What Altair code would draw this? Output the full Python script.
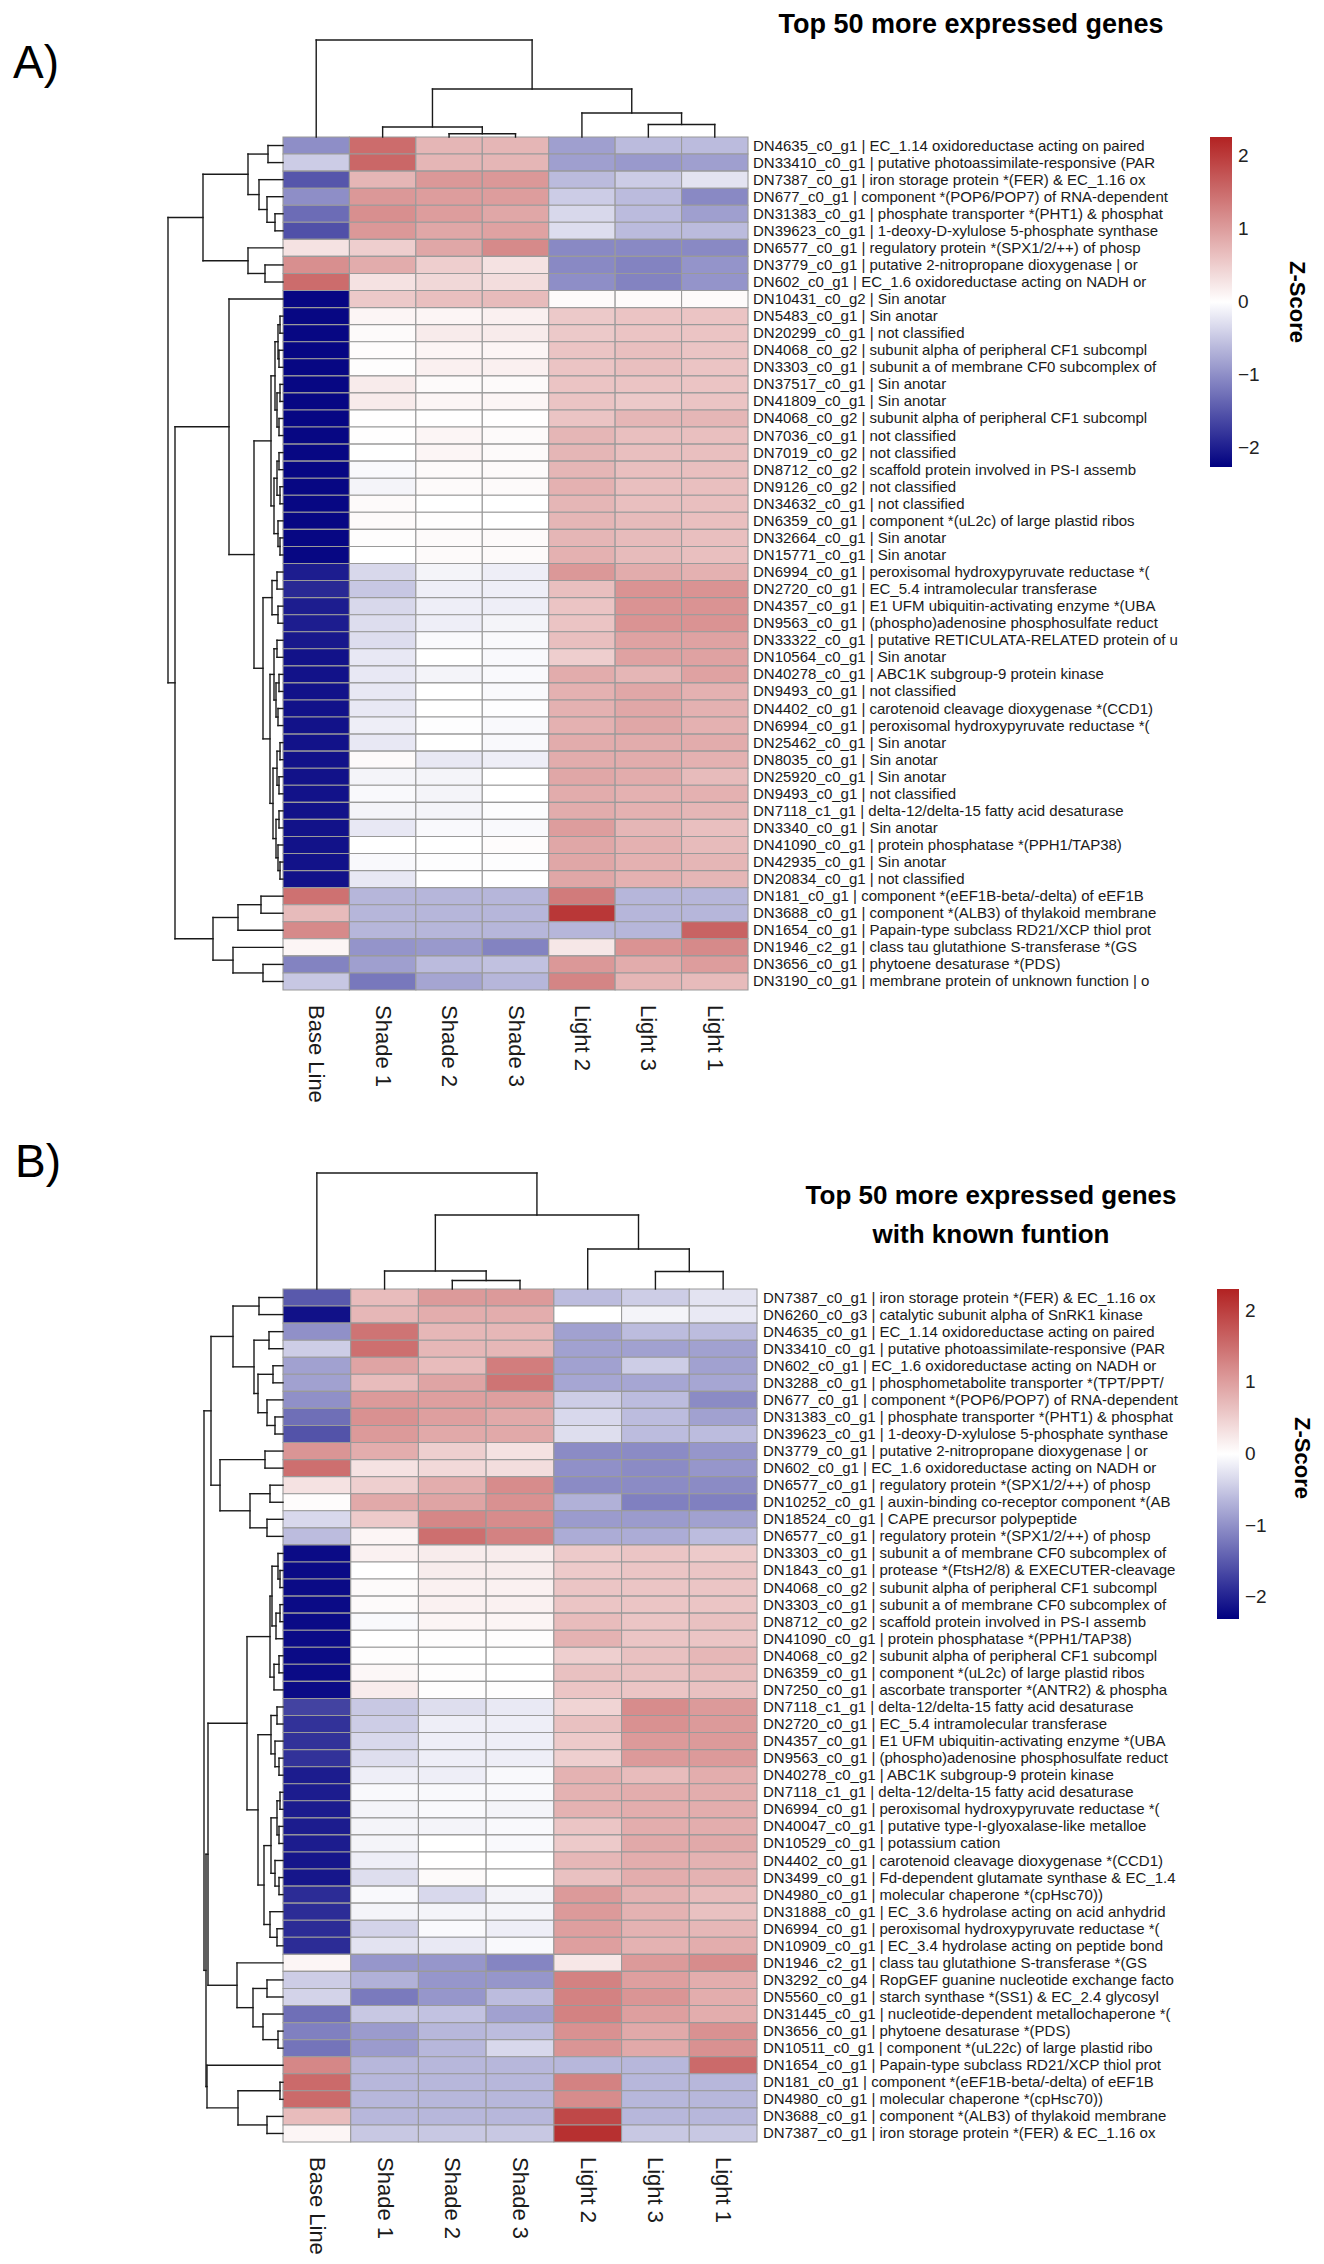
import altair as alt
import pandas as pd

# ---------------------------------------------------------------- data
samples = ["Base Line", "Shade 1", "Shade 2", "Shade 3", "Light 2", "Light 3", "Light 1"]

genes_a = [
    "DN4635_c0_g1 | EC_1.14 oxidoreductase acting on paired",
    "DN33410_c0_g1 | putative photoassimilate-responsive (PAR",
    "DN7387_c0_g1 | iron storage protein *(FER) & EC_1.16 ox",
    "DN677_c0_g1 | component *(POP6/POP7) of RNA-dependent",
    "DN31383_c0_g1 | phosphate transporter *(PHT1) & phosphat",
    "DN39623_c0_g1 | 1-deoxy-D-xylulose 5-phosphate synthase",
    "DN6577_c0_g1 | regulatory protein *(SPX1/2/++) of phosp",
    "DN3779_c0_g1 | putative 2-nitropropane dioxygenase | or",
    "DN602_c0_g1 | EC_1.6 oxidoreductase acting on NADH or",
    "DN10431_c0_g2 | Sin anotar",
    "DN5483_c0_g1 | Sin anotar",
    "DN20299_c0_g1 | not classified",
    "DN4068_c0_g2 | subunit alpha of peripheral CF1 subcompl",
    "DN3303_c0_g1 | subunit a of membrane CF0 subcomplex of",
    "DN37517_c0_g1 | Sin anotar",
    "DN41809_c0_g1 | Sin anotar",
    "DN4068_c0_g2 | subunit alpha of peripheral CF1 subcompl",
    "DN7036_c0_g1 | not classified",
    "DN7019_c0_g2 | not classified",
    "DN8712_c0_g2 | scaffold protein involved in PS-I assemb",
    "DN9126_c0_g2 | not classified",
    "DN34632_c0_g1 | not classified",
    "DN6359_c0_g1 | component *(uL2c) of large plastid ribos",
    "DN32664_c0_g1 | Sin anotar",
    "DN15771_c0_g1 | Sin anotar",
    "DN6994_c0_g1 | peroxisomal hydroxypyruvate reductase *(",
    "DN2720_c0_g1 | EC_5.4 intramolecular transferase",
    "DN4357_c0_g1 | E1 UFM ubiquitin-activating enzyme *(UBA",
    "DN9563_c0_g1 | (phospho)adenosine phosphosulfate reduct",
    "DN33322_c0_g1 | putative RETICULATA-RELATED protein of u",
    "DN10564_c0_g1 | Sin anotar",
    "DN40278_c0_g1 | ABC1K subgroup-9 protein kinase",
    "DN9493_c0_g1 | not classified",
    "DN4402_c0_g1 | carotenoid cleavage dioxygenase *(CCD1)",
    "DN6994_c0_g1 | peroxisomal hydroxypyruvate reductase *(",
    "DN25462_c0_g1 | Sin anotar",
    "DN8035_c0_g1 | Sin anotar",
    "DN25920_c0_g1 | Sin anotar",
    "DN9493_c0_g1 | not classified",
    "DN7118_c1_g1 | delta-12/delta-15 fatty acid desaturase",
    "DN3340_c0_g1 | Sin anotar",
    "DN41090_c0_g1 | protein phosphatase *(PPH1/TAP38)",
    "DN42935_c0_g1 | Sin anotar",
    "DN20834_c0_g1 | not classified",
    "DN181_c0_g1 | component *(eEF1B-beta/-delta) of eEF1B",
    "DN3688_c0_g1 | component *(ALB3) of thylakoid membrane",
    "DN1654_c0_g1 | Papain-type subclass RD21/XCP thiol prot",
    "DN1946_c2_g1 | class tau glutathione S-transferase *(GS",
    "DN3656_c0_g1 | phytoene desaturase *(PDS)",
    "DN3190_c0_g1 | membrane protein of unknown function | o",
]

# z-scores per gene, in the order of `samples`
zscore_a = [
    [-1.00, 1.50, 0.75, 0.75, -0.85, -0.60, -0.60],
    [-0.45, 1.55, 0.75, 0.75, -0.85, -0.90, -0.85],
    [-1.50, 0.75, 1.05, 1.05, -0.60, -0.45, -0.25],
    [-1.00, 1.05, 1.00, 1.00, -0.45, -0.60, -1.05],
    [-1.30, 1.15, 1.00, 0.90, -0.35, -0.60, -0.85],
    [-1.55, 1.05, 0.90, 0.95, -0.30, -0.60, -0.60],
    [0.30, 0.50, 0.90, 1.20, -1.05, -1.05, -1.05],
    [1.15, 0.85, 0.50, 0.30, -1.05, -1.10, -0.95],
    [1.50, 0.30, 0.40, 0.35, -1.00, -1.10, -0.95],
    [-2.20, 0.55, 0.65, 0.70, 0.05, 0.05, 0.05],
    [-2.20, 0.10, 0.10, 0.15, 0.55, 0.60, 0.60],
    [-2.20, 0.05, 0.20, 0.20, 0.55, 0.60, 0.60],
    [-2.20, 0.03, 0.10, 0.10, 0.60, 0.65, 0.60],
    [-2.20, 0.02, 0.15, 0.15, 0.60, 0.65, 0.60],
    [-2.20, 0.20, 0.05, 0.05, 0.60, 0.60, 0.60],
    [-2.20, 0.20, 0.10, 0.10, 0.60, 0.55, 0.60],
    [-2.20, 0.01, 0.01, 0.01, 0.60, 0.75, 0.75],
    [-2.20, 0.01, 0.10, 0.05, 0.75, 0.65, 0.65],
    [-2.20, 0.00, 0.10, 0.05, 0.75, 0.65, 0.65],
    [-2.20, -0.05, 0.05, 0.05, 0.75, 0.65, 0.65],
    [-2.20, -0.10, 0.05, 0.05, 0.80, 0.65, 0.65],
    [-2.20, 0.05, 0.00, 0.00, 0.75, 0.65, 0.65],
    [-2.20, 0.05, 0.02, 0.00, 0.75, 0.70, 0.65],
    [-2.20, 0.02, 0.05, 0.05, 0.75, 0.70, 0.65],
    [-2.20, 0.00, 0.05, 0.05, 0.80, 0.70, 0.65],
    [-2.00, -0.35, -0.10, -0.15, 1.05, 0.85, 0.80],
    [-1.90, -0.50, -0.15, -0.15, 0.65, 1.10, 1.10],
    [-2.00, -0.35, -0.15, -0.15, 0.60, 1.10, 1.10],
    [-2.00, -0.30, -0.15, -0.10, 0.60, 1.10, 1.10],
    [-2.05, -0.30, -0.05, -0.05, 0.65, 0.95, 0.95],
    [-2.10, -0.20, 0.00, -0.05, 0.50, 0.95, 0.95],
    [-2.10, -0.20, -0.10, -0.05, 0.85, 0.75, 0.95],
    [-2.10, -0.20, 0.00, -0.05, 0.80, 0.90, 0.80],
    [-2.10, -0.20, 0.00, -0.02, 0.80, 0.90, 0.80],
    [-2.10, -0.15, -0.02, -0.05, 0.80, 0.90, 0.80],
    [-2.10, -0.20, 0.00, -0.05, 0.85, 0.85, 0.85],
    [-2.10, 0.05, -0.20, -0.15, 0.85, 0.85, 0.80],
    [-2.10, -0.10, -0.10, 0.00, 0.90, 0.85, 0.70],
    [-2.10, -0.05, -0.10, 0.00, 0.85, 0.80, 0.80],
    [-2.10, -0.10, -0.10, -0.03, 0.85, 0.80, 0.75],
    [-2.10, -0.20, -0.05, -0.05, 1.00, 0.75, 0.65],
    [-2.10, 0.00, 0.00, 0.03, 0.90, 0.80, 0.70],
    [-2.10, -0.05, -0.02, -0.02, 0.90, 0.80, 0.75],
    [-2.10, -0.20, 0.00, 0.00, 0.90, 0.80, 0.75],
    [1.45, -0.65, -0.65, -0.65, 1.35, -0.65, -0.65],
    [0.70, -0.65, -0.65, -0.65, 2.05, -0.65, -0.65],
    [1.20, -0.65, -0.65, -0.65, -0.65, -0.65, 1.60],
    [0.10, -0.95, -0.90, -1.10, 0.25, 1.10, 1.20],
    [-1.10, -0.85, -0.60, -0.55, 1.05, 0.85, 1.00],
    [-0.50, -1.20, -0.80, -0.65, 1.25, 0.75, 0.70],
]

genes_b = [
    "DN7387_c0_g1 | iron storage protein *(FER) & EC_1.16 ox",
    "DN6260_c0_g3 | catalytic subunit alpha of SnRK1 kinase",
    "DN4635_c0_g1 | EC_1.14 oxidoreductase acting on paired",
    "DN33410_c0_g1 | putative photoassimilate-responsive (PAR",
    "DN602_c0_g1 | EC_1.6 oxidoreductase acting on NADH or",
    "DN3288_c0_g1 | phosphometabolite transporter *(TPT/PPT/",
    "DN677_c0_g1 | component *(POP6/POP7) of RNA-dependent",
    "DN31383_c0_g1 | phosphate transporter *(PHT1) & phosphat",
    "DN39623_c0_g1 | 1-deoxy-D-xylulose 5-phosphate synthase",
    "DN3779_c0_g1 | putative 2-nitropropane dioxygenase | or",
    "DN602_c0_g1 | EC_1.6 oxidoreductase acting on NADH or",
    "DN6577_c0_g1 | regulatory protein *(SPX1/2/++) of phosp",
    "DN10252_c0_g1 | auxin-binding co-receptor component *(AB",
    "DN18524_c0_g1 | CAPE precursor polypeptide",
    "DN6577_c0_g1 | regulatory protein *(SPX1/2/++) of phosp",
    "DN3303_c0_g1 | subunit a of membrane CF0 subcomplex of",
    "DN1843_c0_g1 | protease *(FtsH2/8) & EXECUTER-cleavage",
    "DN4068_c0_g2 | subunit alpha of peripheral CF1 subcompl",
    "DN3303_c0_g1 | subunit a of membrane CF0 subcomplex of",
    "DN8712_c0_g2 | scaffold protein involved in PS-I assemb",
    "DN41090_c0_g1 | protein phosphatase *(PPH1/TAP38)",
    "DN4068_c0_g2 | subunit alpha of peripheral CF1 subcompl",
    "DN6359_c0_g1 | component *(uL2c) of large plastid ribos",
    "DN7250_c0_g1 | ascorbate transporter *(ANTR2) & phospha",
    "DN7118_c1_g1 | delta-12/delta-15 fatty acid desaturase",
    "DN2720_c0_g1 | EC_5.4 intramolecular transferase",
    "DN4357_c0_g1 | E1 UFM ubiquitin-activating enzyme *(UBA",
    "DN9563_c0_g1 | (phospho)adenosine phosphosulfate reduct",
    "DN40278_c0_g1 | ABC1K subgroup-9 protein kinase",
    "DN7118_c1_g1 | delta-12/delta-15 fatty acid desaturase",
    "DN6994_c0_g1 | peroxisomal hydroxypyruvate reductase *(",
    "DN40047_c0_g1 | putative type-I-glyoxalase-like metalloe",
    "DN10529_c0_g1 | potassium cation",
    "DN4402_c0_g1 | carotenoid cleavage dioxygenase *(CCD1)",
    "DN3499_c0_g1 | Fd-dependent glutamate synthase & EC_1.4",
    "DN4980_c0_g1 | molecular chaperone *(cpHsc70))",
    "DN31888_c0_g1 | EC_3.6 hydrolase acting on acid anhydrid",
    "DN6994_c0_g1 | peroxisomal hydroxypyruvate reductase *(",
    "DN10909_c0_g1 | EC_3.4 hydrolase acting on peptide bond",
    "DN1946_c2_g1 | class tau glutathione S-transferase *(GS",
    "DN3292_c0_g4 | RopGEF guanine nucleotide exchange facto",
    "DN5560_c0_g1 | starch synthase *(SS1) & EC_2.4 glycosyl",
    "DN31445_c0_g1 | nucleotide-dependent metallochaperone *(",
    "DN3656_c0_g1 | phytoene desaturase *(PDS)",
    "DN10511_c0_g1 | component *(uL22c) of large plastid ribo",
    "DN1654_c0_g1 | Papain-type subclass RD21/XCP thiol prot",
    "DN181_c0_g1 | component *(eEF1B-beta/-delta) of eEF1B",
    "DN4980_c0_g1 | molecular chaperone *(cpHsc70))",
    "DN3688_c0_g1 | component *(ALB3) of thylakoid membrane",
    "DN7387_c0_g1 | iron storage protein *(FER) & EC_1.16 ox",
]

zscore_b = [
    [-1.50, 0.70, 1.05, 1.05, -0.60, -0.45, -0.25],
    [-2.15, 0.75, 0.85, 0.85, 0.00, -0.10, -0.20],
    [-1.00, 1.45, 0.75, 0.75, -0.85, -0.60, -0.60],
    [-0.45, 1.50, 0.75, 0.75, -0.85, -0.85, -0.85],
    [-0.85, 0.95, 0.70, 1.35, -0.85, -0.45, -0.85],
    [-0.85, 0.70, 0.95, 1.45, -0.80, -0.80, -0.80],
    [-1.00, 1.05, 1.00, 1.00, -0.45, -0.60, -1.05],
    [-1.30, 1.15, 1.00, 0.90, -0.35, -0.60, -0.85],
    [-1.55, 1.05, 0.90, 0.90, -0.30, -0.60, -0.60],
    [1.10, 0.85, 0.50, 0.30, -1.05, -1.05, -0.95],
    [1.50, 0.30, 0.40, 0.35, -1.00, -1.05, -0.95],
    [0.30, 0.50, 0.85, 1.20, -1.05, -1.05, -1.05],
    [0.03, 0.90, 0.95, 1.15, -0.70, -1.15, -1.15],
    [-0.35, 0.55, 1.25, 1.20, -0.90, -0.90, -0.85],
    [-0.60, 0.10, 1.50, 1.30, -0.75, -0.75, -0.60],
    [-2.20, 0.15, 0.20, 0.20, 0.55, 0.60, 0.55],
    [-2.20, 0.00, 0.20, 0.20, 0.55, 0.60, 0.60],
    [-2.20, 0.05, 0.15, 0.15, 0.60, 0.60, 0.60],
    [-2.20, 0.05, 0.15, 0.15, 0.60, 0.60, 0.60],
    [-2.20, -0.05, 0.10, 0.10, 0.70, 0.60, 0.65],
    [-2.20, 0.00, 0.02, 0.02, 0.80, 0.60, 0.60],
    [-2.20, 0.02, 0.00, 0.00, 0.50, 0.65, 0.75],
    [-2.20, 0.08, 0.02, 0.00, 0.65, 0.65, 0.70],
    [-2.20, 0.20, 0.02, 0.02, 0.60, 0.60, 0.65],
    [-1.70, -0.50, -0.30, -0.20, 0.45, 1.20, 1.05],
    [-1.85, -0.45, -0.15, -0.15, 0.65, 1.15, 1.05],
    [-1.85, -0.35, -0.15, -0.15, 0.55, 1.05, 1.05],
    [-1.85, -0.30, -0.15, -0.15, 0.50, 1.05, 1.05],
    [-2.05, -0.15, -0.15, -0.05, 0.80, 0.70, 0.85],
    [-2.05, -0.05, -0.05, -0.05, 0.80, 0.85, 0.85],
    [-2.05, -0.10, -0.05, -0.10, 0.80, 0.85, 0.85],
    [-2.05, -0.10, -0.10, -0.05, 0.60, 0.85, 0.85],
    [-2.05, -0.10, 0.00, -0.05, 0.55, 0.90, 0.90],
    [-2.10, -0.15, 0.00, 0.00, 0.75, 0.85, 0.80],
    [-2.10, -0.30, 0.05, 0.00, 0.65, 0.85, 0.80],
    [-1.90, -0.05, -0.35, -0.10, 1.05, 0.80, 0.70],
    [-1.90, -0.10, -0.10, -0.10, 1.05, 0.80, 0.65],
    [-1.90, -0.40, -0.05, -0.15, 1.00, 0.80, 0.75],
    [-1.90, -0.25, -0.20, -0.05, 1.00, 0.80, 0.85],
    [0.10, -0.95, -0.95, -1.10, 0.25, 1.05, 1.20],
    [-0.45, -0.70, -0.95, -0.95, 1.30, 1.00, 0.85],
    [-0.40, -1.20, -0.95, -0.60, 1.30, 1.10, 0.85],
    [-1.30, -0.50, -0.55, -0.85, 1.30, 1.00, 0.85],
    [-1.15, -0.90, -0.65, -0.60, 1.15, 0.90, 1.15],
    [-1.25, -0.90, -0.65, -0.35, 1.10, 0.90, 1.15],
    [1.25, -0.65, -0.65, -0.65, -0.65, -0.65, 1.55],
    [1.55, -0.65, -0.65, -0.65, 1.30, -0.65, -0.65],
    [1.55, -0.65, -0.65, -0.65, 1.20, -0.65, -0.65],
    [0.70, -0.65, -0.65, -0.65, 1.90, -0.65, -0.65],
    [0.10, -0.50, -0.50, -0.50, 2.15, -0.50, -0.50],
]

# Clustering trees: (merge height, left, right); leaves are column indices
# (0-based) for the sample trees and row numbers (1-based) for the gene trees.
col_tree_a = (97, 0, (48, (10, 1, (3.3, 2, 3)), (24, 4, (12.5, 5, 6))))
col_tree_b = (116, 0, (74, (18, 1, (8.5, 2, 3)), (40, 4, (17.5, 5, 6))))

row_tree_a = (
    115,
    (80, (35, (15, 1, 2), (24, 3, (16, 4, (8, 5, 6)))), (35, 7, (18, 8, 9))),
    (108,
     (54, 10,
      (29,
       (12, (8, (5, (3, 11, 12), (4, 13, 14)), (6, (3, 15, 16), (4, 17, 18))),
            (9, (6, (4, 19, 20), (3, 21, 22)), (5, 23, (3, 24, 25)))),
       (20, (11, (6, 26, 27), (5, 28, 29)),
            (13, (9, (6, 30, 31), (7, (4, 32, 33), (5, 34, 35))),
                 (10, (6, (3, 36, 37), (4, 38, 39)),
                      (7, (4, 40, 41), (5, 42, (3, 43, 44)))))))),
     (70, (45, (22, 45, 46), 47), (50, 48, (20, 49, 50)))),
)

row_tree_b = (
    79,
    (72,
     (50, (24, 1, 2), (29, (14, 3, 4), (25, (10, 5, 6), (16, 7, (8, 8, 9))))),
     (63, (18, 10, 11), (33, (13, 12, 13), (16, 14, 15)))),
    (77,
     (75,
      (36,
       (13, (11, (5, 16, (3, 17, 18)), (7, (3, 19, 20), 21)), (9, (4, 22, 23), 24)),
       (25, (12, (6, 25, 26), (8, 27, (4, 28, 29))),
            (19, (12, (6, (3, 30, 31), (4, 32, 33)), (8, 34, (4, 35, 36))),
                 (13, 37, (6, 38, 39))))),
      (46, 40, (30, (16, 41, 42), (20, 43, (5, 44, 45))))),
     (76, 46, (45, (3, 47, 48), (16, 49, 50)))),
)

# ---------------------------------------------------------------- layout
FONT = "Liberation Sans"
ROW_PX = 17.06            # height of one heatmap row
HEAT_LEFT, HEAT_TOP = 283, 137
A_W, B_W = 465, 474       # heatmap widths of the two panels
B_TOP, B_BOTTOM = 1289, 2143
PLOT_H = B_BOTTOM - HEAT_TOP
Y_TOTAL = PLOT_H / ROW_PX
B_OFF = (B_TOP - HEAT_TOP) / ROW_PX
N = len(samples)

ys = alt.Scale(domain=[0, Y_TOTAL], reverse=True, nice=False, zero=False)
xs_a = alt.Scale(domain=[0, N], nice=False, zero=False)
xs_b = alt.Scale(domain=[0, N * A_W / B_W], nice=False, zero=False)

navy, white, red = "#000080", "#FFFFFF", "#B22222"


def tree_segments(tree, leaf_pos, k):
    """Elbow segments of a dendrogram as (height, position) pairs, heights scaled by k."""
    segs = []

    def walk(node):
        if isinstance(node, int):
            return leaf_pos(node), 0.0
        h, a, b = node
        pa, ha = walk(a)
        pb, hb = walk(b)
        segs.append((h, pa, h, pb))
        segs.append((ha, pa, h, pa))
        segs.append((hb, pb, h, pb))
        return (pa + pb) / 2, h

    walk(tree)
    return [(h1 * k, p1, h2 * k, p2) for h1, p1, h2, p2 in segs]


def panel(genes, z, col_tree, row_tree, xs, y_off, col_w,
          legend_x, legend_y, lo, hi, label_dx):
    cells = pd.DataFrame([
        {"x": c, "x2": c + 1, "y": r + y_off, "y2": r + 1 + y_off, "z": z[r][c]}
        for r in range(len(genes)) for c in range(N)
    ])
    heat = alt.Chart(cells).mark_rect(stroke="#9a9a9a", strokeWidth=1.1).encode(
        x=alt.X("x:Q", scale=xs, axis=None),
        x2="x2:Q",
        y=alt.Y("y:Q", scale=ys, axis=None),
        y2="y2:Q",
        color=alt.Color(
            "z:Q",
            scale=alt.Scale(domain=[lo, 0, hi], range=[navy, white, red], interpolate="rgb"),
            legend=alt.Legend(
                orient="none", legendX=legend_x, legendY=legend_y,
                direction="vertical", gradientLength=330, gradientThickness=22,
                gradientStrokeWidth=0, values=[-2, -1, 0, 1, 2], title=None,
                labelFont=FONT, labelFontSize=19, labelColor="#222222", labelOffset=6,
            ),
        ),
    )

    # gene (row) dendrogram, drawn to the left of the heatmap
    rseg = tree_segments(row_tree, lambda r: r - 0.5 + y_off, 1.0 / col_w)
    rdf = pd.DataFrame([{"x": -a, "y": b, "x2": -c, "y2": d} for a, b, c, d in rseg])
    rows_d = alt.Chart(rdf).mark_rule(color="#1a1a1a", strokeWidth=1.4, strokeCap="square").encode(
        x=alt.X("x:Q", scale=xs, axis=None), x2="x2:Q",
        y=alt.Y("y:Q", scale=ys, axis=None), y2="y2:Q",
    )

    # sample (column) dendrogram, drawn above the heatmap
    cseg = tree_segments(col_tree, lambda c: c + 0.5, 1.0 / ROW_PX)
    cdf = pd.DataFrame([{"y": y_off - a, "x": b, "y2": y_off - c, "x2": d} for a, b, c, d in cseg])
    cols_d = alt.Chart(cdf).mark_rule(color="#1a1a1a", strokeWidth=1.4, strokeCap="square").encode(
        x=alt.X("x:Q", scale=xs, axis=None), x2="x2:Q",
        y=alt.Y("y:Q", scale=ys, axis=None), y2="y2:Q",
    )

    # gene names on the right
    gdf = pd.DataFrame({"name": genes, "x": [N] * len(genes),
                        "y": [i + 0.5 + y_off for i in range(len(genes))]})
    glabels = alt.Chart(gdf).mark_text(
        align="left", baseline="middle", dx=label_dx, font=FONT, fontSize=15, color="#1a1a1a"
    ).encode(
        x=alt.X("x:Q", scale=xs, axis=None),
        y=alt.Y("y:Q", scale=ys, axis=None),
        text="name:N",
    )

    # sample names below, rotated
    sdf = pd.DataFrame({"name": samples, "x": [c + 0.5 for c in range(N)],
                        "y": [len(genes) + y_off] * N})
    slabels = alt.Chart(sdf).mark_text(
        align="left", baseline="middle", angle=90, dx=15, font=FONT, fontSize=22, color="#1a1a1a"
    ).encode(
        x=alt.X("x:Q", scale=xs, axis=None),
        y=alt.Y("y:Q", scale=ys, axis=None),
        text="name:N",
    )
    return alt.layer(heat, rows_d, cols_d, glabels, slabels)


panel_a = panel(genes_a, zscore_a, col_tree_a, row_tree_a, xs_a, 0.0, col_w=A_W / N,
                legend_x=1210 - HEAT_LEFT, legend_y=0, lo=-2.26, hi=2.26, label_dx=5)
panel_b = panel(genes_b, zscore_b, col_tree_b, row_tree_b, xs_b, B_OFF, col_w=B_W / N,
                legend_x=1217 - HEAT_LEFT, legend_y=B_TOP - HEAT_TOP, lo=-2.3, hi=2.3,
                label_dx=6)


# panel letters, headings and legend titles (pixel offsets from the plot origin)
def note(text, x, y, size, weight="normal", align="left", angle=0, baseline="alphabetic"):
    return alt.Chart(pd.DataFrame({"t": [text]})).mark_text(
        align=align, baseline=baseline, font=FONT, fontSize=size, angle=angle,
        fontWeight=weight, color="#000000"
    ).encode(x=alt.value(x), y=alt.value(y), text="t:N")


notes = alt.layer(
    note("A)", 13 - HEAT_LEFT, 78 - HEAT_TOP, 46),
    note("Top 50 more expressed genes", 971 - HEAT_LEFT, 33 - HEAT_TOP, 27, "bold", "center"),
    note("B)", 15 - HEAT_LEFT, 1177 - HEAT_TOP, 46),
    note("Top 50 more expressed genes", 991 - HEAT_LEFT, 1204 - HEAT_TOP, 26, "bold", "center"),
    note("with known funtion", 991 - HEAT_LEFT, 1243 - HEAT_TOP, 26, "bold", "center"),
    note("Z-Score", 1297 - HEAT_LEFT, 302 - HEAT_TOP, 22, "bold", "center", 90, "middle"),
    note("Z-Score", 1302 - HEAT_LEFT, 1458 - HEAT_TOP, 22, "bold", "center", 90, "middle"),
)

chart = alt.layer(panel_a, panel_b, notes).resolve_scale(
    x="independent", color="independent"
).properties(
    width=A_W,
    height=PLOT_H,
    background="white",
    autosize=alt.AutoSizeParams(type="none"),
    padding={"left": HEAT_LEFT, "top": HEAT_TOP, "right": 1324 - HEAT_LEFT - A_W,
             "bottom": 2264 - HEAT_TOP - PLOT_H},
).configure_view(stroke=None)

chart.save("out.html", embed_options={"renderer": "svg", "actions": False})
